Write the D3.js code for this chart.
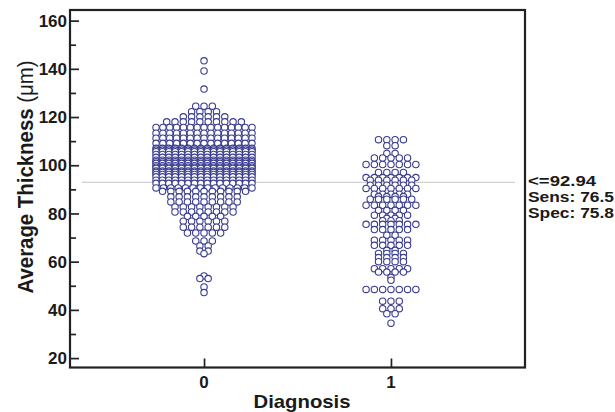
<!DOCTYPE html>
<html>
<head>
<meta charset="utf-8">
<script src="https://cdn.jsdelivr.net/npm/d3@7/dist/d3.min.js"></script>
<style>
  html, body { margin: 0; padding: 0; background: #fff; }
  svg { display: block; }
  text { font-family: "Liberation Sans", Arial, Helvetica, sans-serif; fill: #1a1a1a; }
</style>
</head>
<body>
<svg id="chart" width="615" height="412"></svg>
<script>
// ---- Data ----
const categories = [0, 1];
const yMajorTicks = [20, 40, 60, 80, 100, 120, 140, 160];
const yMinorTicks = [30, 50, 70, 90, 110, 130, 150];
const cutoff = 92.94;
const cutoffLabels = ["<=92.94", "Sens: 76.5", "Spec: 75.8"];

// Diagnosis 0: thickness value of each row of dots, and number of dots in that row
const group0Values = [143.3, 139.1, 131.6, 124.5, 122.2, 120.1, 118.0, 115.7, 113.3, 111.2,
  109.1, 107.0, 106.3, 105.6, 104.5, 103.3, 102.1, 101.5, 100.8, 99.8, 99.2, 98.7, 97.6,
  97.0, 96.2, 95.2, 93.8, 92.5, 90.6, 89.2, 86.9, 84.8, 82.7, 80.6, 78.8, 76.8, 74.3,
  71.9, 68.6, 66.5, 64.4, 63.3, 54.1, 53.0, 49.5, 47.2];
const group0Counts = [1, 1, 1, 3, 4, 6, 10, 15, 15, 15,
  15, 16, 16, 16, 16, 16, 16, 16, 16, 16, 16, 16, 16,
  16, 16, 16, 16, 16, 14, 11, 9, 9, 8, 8, 5, 6, 6,
  5, 3, 2, 2, 1, 1, 2, 1, 1];

// Diagnosis 1
const group1Values = [110.6, 108.1, 104.9, 103.0, 100.3, 97.0, 94.9, 93.8, 91.7, 90.4,
  88.0, 87.0, 85.9, 83.4, 81.3, 79.3, 78.0, 77.0, 75.5, 73.3, 71.0, 68.9, 66.8, 64.7,
  63.4, 61.7, 60.0, 57.1, 55.7, 53.5, 52.3, 48.5, 43.6, 40.5, 38.4, 34.5];
const group1Counts = [4, 2, 2, 5, 7, 4, 7, 6, 6, 7,
  5, 4, 6, 7, 4, 5, 2, 3, 7, 5, 2, 5, 5, 2,
  4, 4, 4, 5, 4, 1, 1, 7, 3, 3, 2, 1];

// ---- Chart ----
const svg = d3.select("#chart");
const frame = { left: 70, right: 525, top: 10, bottom: 367.5 };

const x = d3.scaleLinear().domain([-0.717, 1.717]).range([frame.left, frame.right]);
const y = d3.scaleLinear().domain([16.1, 164.4]).range([frame.bottom, frame.top]);

// cutoff line
svg.append("line")
  .attr("x1", 82).attr("x2", 515)
  .attr("y1", y(cutoff)).attr("y2", y(cutoff))
  .attr("stroke", "#c4c4c4").attr("stroke-width", 1);

// dots
const baseGap = 8.3, maxSpan = 96;
function buildDots(cat, values, counts) {
  const dots = [];
  values.forEach((v, r) => {
    const n = counts[r];
    const gap = n > 1 ? Math.min(baseGap, maxSpan / (n - 1)) : 0;
    for (let i = 0; i < n; i++) {
      dots.push({ cat, value: v, off: (i - (n - 1) / 2) * gap });
    }
  });
  return dots;
}
const dots = buildDots(categories[0], group0Values, group0Counts)
  .concat(buildDots(categories[1], group1Values, group1Counts));

svg.append("g").selectAll("circle").data(dots).join("circle")
  .attr("cx", d => x(d.cat) + d.off)
  .attr("cy", d => y(d.value))
  .attr("r", 3.2)
  .attr("fill", "#fff")
  .attr("stroke", "#3a3d8e")
  .attr("stroke-width", 1.1);

// frame
svg.append("rect")
  .attr("x", frame.left).attr("y", frame.top)
  .attr("width", frame.right - frame.left).attr("height", frame.bottom - frame.top)
  .attr("fill", "none").attr("stroke", "#222").attr("stroke-width", 2.2);

// y axis (ticks inward)
const yAxis = d3.axisRight(y).tickValues(yMajorTicks).tickSize(9).tickFormat("");
const gy = svg.append("g").attr("transform", `translate(${frame.left},0)`).call(yAxis);
gy.select(".domain").remove();
gy.selectAll("line").attr("stroke", "#222").attr("stroke-width", 1.7);
const yMinor = d3.axisRight(y).tickValues(yMinorTicks).tickSize(6).tickFormat("");
const gym = svg.append("g").attr("transform", `translate(${frame.left},0)`).call(yMinor);
gym.select(".domain").remove();
gym.selectAll("line").attr("stroke", "#222").attr("stroke-width", 1.7);

svg.append("g").selectAll("text").data(yMajorTicks).join("text")
  .attr("x", frame.left - 3).attr("y", d => y(d)).attr("dy", "0.36em")
  .attr("text-anchor", "end")
  .style("font-size", "17px").style("font-weight", "bold")
  .text(d => d);

// x axis (ticks inward)
const xAxis = d3.axisTop(x).tickValues(categories).tickSize(9).tickFormat("");
const gx = svg.append("g").attr("transform", `translate(0,${frame.bottom})`).call(xAxis);
gx.select(".domain").remove();
gx.selectAll("line").attr("stroke", "#222").attr("stroke-width", 1.7);

svg.append("g").selectAll("text").data(categories).join("text")
  .attr("x", d => x(d)).attr("y", 387.5)
  .attr("text-anchor", "middle")
  .style("font-size", "17px").style("font-weight", "bold")
  .text(d => d);

// axis titles
svg.append("text")
  .attr("x", 302).attr("y", 407.5)
  .attr("text-anchor", "middle")
  .attr("textLength", 97).attr("lengthAdjust", "spacingAndGlyphs")
  .style("font-size", "18.5px").style("font-weight", "bold")
  .text("Diagnosis");

const yt = svg.append("text")
  .attr("transform", "translate(33,177) rotate(-90) scale(1,1.18)")
  .attr("text-anchor", "middle")
  .attr("textLength", 233).attr("lengthAdjust", "spacingAndGlyphs")
  .style("font-size", "19px").style("font-weight", "bold");
yt.append("tspan").text("Average Thickness ");
yt.append("tspan").style("font-weight", "normal").text("(μm)");

// cutoff labels
const labelY = [186, 201.8, 217.5];
const labelW = [68, 86, 86];
svg.append("g").selectAll("text").data(cutoffLabels).join("text")
  .attr("x", 528).attr("y", (d, i) => labelY[i])
  .attr("textLength", (d, i) => labelW[i]).attr("lengthAdjust", "spacingAndGlyphs")
  .style("font-size", "14.5px").style("font-weight", "bold")
  .text(d => d);
</script>
</body>
</html>
